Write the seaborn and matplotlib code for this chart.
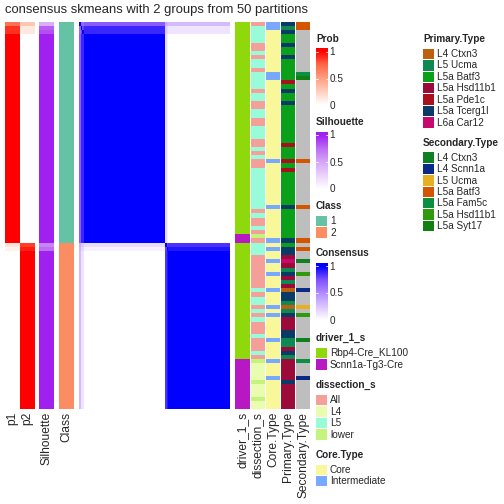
import numpy as np
import pandas as pd
import matplotlib
matplotlib.use("Agg")
import matplotlib.pyplot as plt
from matplotlib.colors import ListedColormap, LinearSegmentedColormap
from matplotlib.patches import Rectangle
import seaborn as sns

sns.set_style("white")
plt.rcParams['font.family'] = ['Liberation Sans', 'DejaVu Sans']

# membership probabilities / silhouette per sample (top to bottom)
p1 = [0.70, 0.88, 0.88] + [1.0] * 50 + [0.15, 0.07] + [0.0] * 38
p2 = [0.30, 0.12, 0.12] + [0.0] * 50 + [0.85, 0.93] + [1.0] * 38
silhouette = [0.45, 0.80, 0.85] + [1.0] * 50 + [0.65, 0.75] + [1.0] * 38
klass = [1] * 53 + [2] * 40

# annotations, one char per sample
driver = "R" * 51 + "SS" + "R" * 28 + "S" * 12
dissection = ("A5555AA5A5" "5A5555A55A" "A55AA555AA" "5A5AA55555" "55555A5AA5"
              "AWA555AAAA" "AAAA5A55A5" "A5AAA5AAA5" "AW4444W444" "W44")
core = ("IICCCCCCCC" "CCIICCCCCC" "CCCCCCCCCC" "CCCICCCCCC" "CCCCICCCCC"
        "CCICICCICC" "ICCCICCCIC" "ICCCCCICCC" "CICCCICCCC" "CCC")
primary = ("TUTBBTBBTB" "BBBBPBTBBT" "BBBBBBBBBP" "BBBPBPBBBB" "BBBBTBBBBB"
           "BBTBTTHRHU" "THUHCTTUCU" "THHHTTUUHT" "UHHHHHTHHH" "HHH")
secondary = ("BB--------" "--FY------" "----------" "---B------" "----B-----"
             "--B-B--C--" "H---S---U-" "H-----C---" "-F---S----" "---")

driver_lv = [("R", "Rbp4-Cre_KL100", "#8fd80c"), ("S", "Scnn1a-Tg3-Cre", "#b818c4")]
dissection_lv = [("A", "All", "#f4a098"), ("4", "L4", "#eafcb0"),
                 ("5", "L5", "#98fcd8"), ("W", "lower", "#c4f47c")]
core_lv = [("C", "Core", "#f8f89a"), ("I", "Intermediate", "#78a8ff")]
primary_lv = [("C", "L4 Ctxn3", "#bc600e"), ("U", "L5 Ucma", "#0e8a50"),
              ("B", "L5a Batf3", "#0aa01a"), ("H", "L5a Hsd11b1", "#9c0a3a"),
              ("P", "L5a Pde1c", "#a8101e"), ("T", "L5a Tcerg1l", "#0a3a66"),
              ("R", "L6a Car12", "#c8086c")]
secondary_lv = [("C", "L4 Ctxn3", "#0f7f22"), ("S", "L4 Scnn1a", "#0a2a8a"),
                ("U", "L5 Ucma", "#e6b020"), ("B", "L5a Batf3", "#d45500"),
                ("F", "L5a Fam5c", "#0a9040"), ("H", "L5a Hsd11b1", "#2e9a0c"),
                ("Y", "L5a Syt17", "#108010"), ("-", "NA", "#bebebe")]
class_lv = [(1, "1", "#66c2a5"), (2, "2", "#fc8d62")]

prob_cmap = LinearSegmentedColormap.from_list("prob", ["#ffffff", "#ffcfbe", "#ff9e81", "#ff6847", "#ff0000"])
sil_cmap = LinearSegmentedColormap.from_list("sil", ["#ffffff", "#ebd3fb", "#d6a6f8", "#bd6ff4", "#a020f0"])
cons_cmap = LinearSegmentedColormap.from_list("cons", ["#ffffff", "#dcc5ff", "#b28bff", "#7e51ff", "#0000ff"])

# consensus matrix from membership
pa, pb = np.array(p1), np.array(p2)
cons = np.outer(pa, pa) + np.outer(pb, pb)
np.fill_diagonal(cons, 1.0)

W = H = 504
fig = plt.figure(figsize=(7, 7), dpi=72)
top, bot = 22, 409


def px_axes(x0, x1):
    return fig.add_axes([x0 / W, 1 - bot / H, (x1 - x0) / W, (bot - top) / H])


def num_heat(ax, data, cmap):
    sns.heatmap(pd.DataFrame(data), cmap=cmap, vmin=0, vmax=1, cbar=False,
                xticklabels=False, yticklabels=False, ax=ax)
    ax.set_xlabel("")
    ax.set_ylabel("")


def cat_heat(ax, values, levels):
    keys = [lv[0] for lv in levels]
    codes = [keys.index(v) for v in values]
    cmap = ListedColormap([lv[2] for lv in levels])
    sns.heatmap(pd.DataFrame({"v": codes}), cmap=cmap, vmin=-0.5, vmax=len(levels) - 0.5,
                cbar=False, xticklabels=False, yticklabels=False, ax=ax)
    ax.set_xlabel("")
    ax.set_ylabel("")


num_heat(px_axes(5, 34.5), np.column_stack([p1, p2]), prob_cmap)
num_heat(px_axes(39, 54), np.array(silhouette)[:, None], sil_cmap)
cat_heat(px_axes(59, 74), klass, class_lv)
num_heat(px_axes(79, 230), cons, cons_cmap)
cat_heat(px_axes(235, 250), list(driver), driver_lv)
cat_heat(px_axes(251, 265.2), list(dissection), dissection_lv)
cat_heat(px_axes(266.2, 280.3), list(core), core_lv)
cat_heat(px_axes(281.3, 295.4), list(primary), primary_lv)
cat_heat(px_axes(296.4, 310.5), list(secondary), secondary_lv)

# bottom labels
for xc, lab in [(12.5, "p1"), (27, "p2"), (46.5, "Silhouette"), (66.5, "Class"),
                (242.5, "driver_1_s"), (258, "dissection_s"), (273, "Core.Type"),
                (288.3, "Primary.Type"), (303.5, "Secondary.Type")]:
    fig.text(xc / W, 1 - 412 / H, lab, rotation=90, ha="center", va="top", fontsize=12)

fig.text(5 / W, 1 - 10 / H, "consensus skmeans with 2 groups from 50 partitions",
         ha="left", va="center", fontsize=13)

# legends
lg = fig.add_axes([0, 0, 1, 1])
lg.set_xlim(0, W)
lg.set_ylim(H, 0)
lg.axis("off")
lg.patch.set_alpha(0)


def grad_legend(x, ty, title, cmap, y1, y0):
    # y1: position of value 1, y0: position of value 0
    lg.text(x, ty, title, fontsize=10, fontweight="bold", va="center", ha="left")
    btop = y1 - 3
    grad = np.clip(np.linspace((y0 - btop) / (y0 - y1), 0, 200), 0, 1)[:, None]
    lg.imshow(grad, cmap=cmap, vmin=0, vmax=1, extent=(x, x + 11.5, y0, btop),
              aspect="auto", interpolation="bilinear")
    ymid = (y0 + y1) / 2
    for yy in (y1, ymid):
        lg.plot([x, x + 2], [yy, yy], color="white", lw=0.8)
        lg.plot([x + 9.5, x + 11.5], [yy, yy], color="white", lw=0.8)
    for yy, t in [(y1, "1"), (ymid, "0.5"), (y0, "0")]:
        lg.text(x + 13.5, yy + 0.5, t, fontsize=10, va="center", ha="left")


def box_legend(x, ty, title, levels, first_top):
    lg.text(x, ty, title, fontsize=10, fontweight="bold", va="center", ha="left")
    for k, lv in enumerate(levels):
        yt = first_top + 11.4 * k
        lg.add_patch(Rectangle((x, yt), 11, 10.4, facecolor=lv[2], edgecolor="none"))
        lg.text(x + 14, yt + 5.4, lv[1], fontsize=10, va="center", ha="left")


grad_legend(316, 39, "Prob", prob_cmap, 51.5, 105.5)
grad_legend(316, 122, "Silhouette", sil_cmap, 135, 189)
box_legend(316, 206, "Class", class_lv, 216)
grad_legend(316, 253, "Consensus", cons_cmap, 266, 320)
box_legend(316, 337.7, "driver_1_s", driver_lv, 348)
box_legend(316, 385, "dissection_s", dissection_lv, 395)
box_legend(316, 455, "Core.Type", core_lv, 464.5)
box_legend(423, 39, "Primary.Type", primary_lv, 48.7)
box_legend(423, 142.7, "Secondary.Type", secondary_lv[:-1], 152.3)

fig.savefig("out.png", dpi=72)
